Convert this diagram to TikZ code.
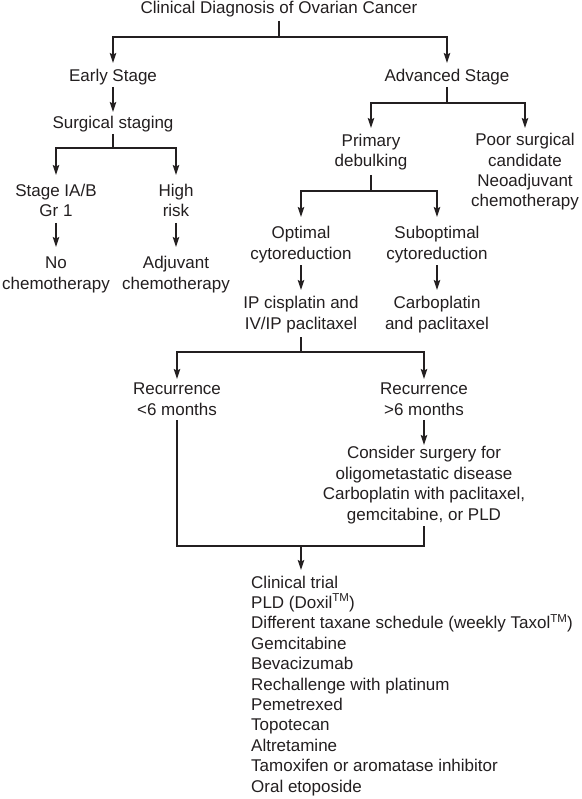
\documentclass[tikz,border=0pt]{standalone}
\usepackage{fontspec}
\setmainfont{Liberation Sans}
\usetikzlibrary{arrows.meta,calc}
\definecolor{ink}{HTML}{231F20}
\newcommand{\tmark}{\raisebox{6.5pt}{\fontsize{11.5}{12}\selectfont TM}}
\begin{document}
\begin{tikzpicture}[x=1pt,y=-1pt,
  lbl/.style={anchor=base, align=center, inner sep=0pt, font=\fontsize{17}{20.4}\selectfont, text=ink},
  conn/.style={draw=ink, line width=1.1pt},
  arr/.style={conn, -{Stealth[length=10pt,width=6.5pt,inset=1.5pt]}}]
\useasboundingbox (0,0) rectangle (581,799);
\fill[white] (0,0) rectangle (581,799);

% multi-line nodes are placed at the baseline of their last line
\node[lbl] (title) at (279,14) {Clinical Diagnosis of Ovarian Cancer};
\node[lbl] (early) at (113,82) {Early Stage};
\node[lbl] (adv) at (447,82) {Advanced Stage};
\node[lbl] (surg) at (113,129) {Surgical staging};
\node[lbl] (stage) at (56,217) {Stage IA/B\\Gr 1};
\node[lbl] (high) at (176,217) {High\\risk};
\node[lbl] (nochemo) at (56,289) {No\\chemotherapy};
\node[lbl] (adjuv) at (176,289) {Adjuvant\\chemotherapy};
\node[lbl] (primary) at (371,167) {Primary\\debulking};
\node[lbl] (poor) at (525,207) {Poor surgical\\candidate\\Neoadjuvant\\chemotherapy};
\node[lbl] (optimal) at (301,259) {Optimal\\cytoreduction};
\node[lbl] (subopt) at (437,259) {Suboptimal\\cytoreduction};
\node[lbl] (ipcis) at (301,329) {IP cisplatin and\\IV/IP paclitaxel};
\node[lbl] (carbo) at (437,329) {Carboplatin\\and paclitaxel};
\node[lbl] (recl) at (177,415) {Recurrence\\<6 months};
\node[lbl] (recg) at (424,415) {Recurrence\\>6 months};
\node[lbl] (consider) at (424,520) {Consider surgery for\\oligometastatic disease\\Carboplatin with paclitaxel,\\gemcitabine, or PLD};
\node[lbl, anchor=base west, align=left] (list) at (251,792) {Clinical trial\\PLD (Doxil\tmark)\\Different taxane schedule (weekly Taxol\tmark)\\Gemcitabine\\Bevacizumab\\Rechallenge with platinum\\Pemetrexed\\Topotecan\\Altretamine\\Tamoxifen or aromatase inhibitor\\Oral etoposide};

\draw[conn] ($(title.base)+(0,7)$) -- ($(title.base)+(0,23)$) coordinate (jt);
\draw[arr] (jt) -| ($(early.base)+(0,-19)$);
\draw[arr] (jt) -| ($(adv.base)+(0,-19)$);
\draw[arr] ($(early.base)+(0,5)$) -- ($(surg.base)+(0,-17)$);
\draw[conn] ($(adv.base)+(0,5)$) -- ($(adv.base)+(0,21)$) coordinate (ja);
\draw[arr] (ja) -| ($(primary.base)+(0,-39)$);
\draw[arr] (ja) -| ($(poor.base)+(0,-79)$);
\draw[conn] ($(surg.base)+(0,5)$) -- ($(surg.base)+(0,19)$) coordinate (js);
\draw[arr] (js) -| ($(stage.base)+(0,-42)$);
\draw[arr] (js) -| ($(high.base)+(0,-42)$);
\draw[arr] ($(stage.base)+(0,6)$) -- ($(nochemo.base)+(0,-42)$);
\draw[arr] ($(high.base)+(0,6)$) -- ($(adjuv.base)+(0,-42)$);
\draw[conn] ($(primary.base)+(0,8)$) -- ($(primary.base)+(0,24)$) coordinate (jp);
\draw[arr] (jp) -| ($(optimal.base)+(0,-42)$);
\draw[arr] (jp) -| ($(subopt.base)+(0,-42)$);
\draw[arr] ($(optimal.base)+(0,6)$) -- ($(ipcis.base)+(0,-39)$);
\draw[arr] ($(subopt.base)+(0,6)$) -- ($(carbo.base)+(0,-39)$);
\draw[conn] ($(ipcis.base)+(0,8)$) -- ($(ipcis.base)+(0,23)$) coordinate (ji);
\draw[arr] (ji) -| ($(recl.base)+(0,-36)$);
\draw[arr] (ji) -| ($(recg.base)+(0,-36)$);
\draw[arr] ($(recg.base)+(0,5)$) -- ($(consider.base)+(0,-75)$);
\draw[conn] ($(recl.base)+(0,5)$) -- ($(recl.base)+(0,131)$) coordinate (jl) -| ($(consider.base)+(0,6)$);
\coordinate (jm) at (jl -| ji);
\coordinate (lt) at ($(list.base west)+(0,-222)$);
\draw[arr] (jm) -- (jm |- lt);
\end{tikzpicture}
\end{document}
